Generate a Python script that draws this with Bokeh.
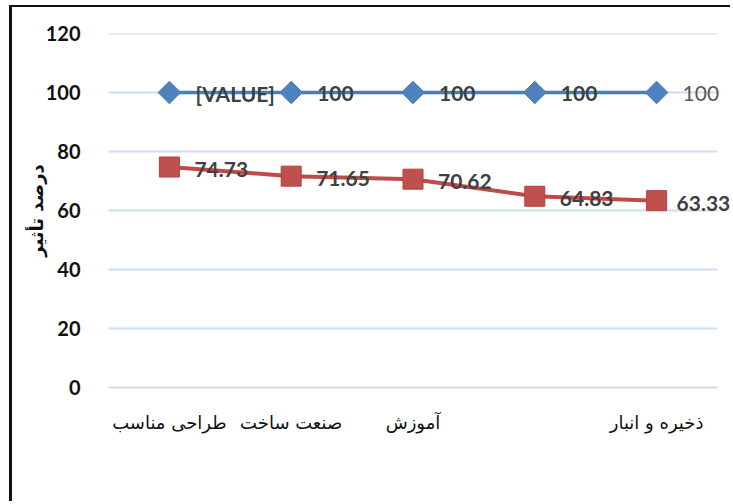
import math
from bokeh.plotting import figure
from bokeh.models import FixedTicker, Range1d, LabelSet, ColumnDataSource
from bokeh.core.properties import value
from bokeh.embed import file_html
from bokeh.resources import INLINE

# ---- data ----
categories = ["طراحی مناسب", "صنعت ساخت", "آموزش", "", "ذخیره و انبار"]
series_top = [100, 100, 100, 100, 100]
series_bottom = [74.73, 71.65, 70.62, 64.83, 63.33]
top_labels = ["[VALUE]", "100", "100", "100", "100"]
bottom_labels = ["74.73", "71.65", "70.62", "64.83", "63.33"]
y_ticks = [0, 20, 40, 60, 80, 100, 120]
y_axis_title = "درصد تأثیر"

xs = list(range(1, len(categories) + 1))
n = len(categories)

# layout (pixels)
W, H = 721, 496
left_b, top_b = 96, 26
bottom_b = H - 380
plot_px = 609          # width of the plotted category area
frame_px = W - left_b  # frame extends to the right edge so labels are not clipped
x_end = 0.5 + n * frame_px / plot_px

p = figure(width=W, height=H, output_backend="svg", toolbar_location=None,
           x_range=Range1d(0.5, x_end), y_range=Range1d(0, 120),
           min_border_left=left_b, min_border_right=0, min_border_top=top_b,
           min_border_bottom=bottom_b)
p.outline_line_color = None
p.styles = {"border-left": "3px solid #111111", "border-top": "2px solid #111111",
            "margin-left": "9px", "margin-top": "5px"}

# grid (drawn only over the category area)
p.xgrid.visible = False
p.ygrid.visible = False
gt = y_ticks[1:]
p.segment(x0=[0.5] * len(gt), x1=[n + 0.5] * len(gt), y0=gt, y1=gt,
          line_color="#d0def0", line_width=2)

# y axis
p.yaxis.ticker = FixedTicker(ticks=y_ticks)
p.yaxis.axis_line_color = None
p.yaxis.major_tick_line_color = None
p.yaxis.minor_tick_line_color = None
p.yaxis.major_label_standoff = 22
p.yaxis.major_label_text_font = "Lato"
p.yaxis.major_label_text_font_style = "bold"
p.yaxis.major_label_text_font_size = "20px"
p.yaxis.major_label_text_color = "#111111"
p.yaxis.axis_label = y_axis_title
p.yaxis.axis_label_text_font = "DejaVu Sans"
p.yaxis.axis_label_text_font_style = "bold"
p.yaxis.axis_label_text_font_size = "18px"
p.yaxis.axis_label_text_color = "#111111"
p.yaxis.axis_label_standoff = -4

# x axis
p.xaxis.ticker = FixedTicker(ticks=xs)
p.xaxis.bounds = (0.5, n + 0.5)
p.xaxis.major_label_overrides = {x: c for x, c in zip(xs, categories)}
p.xaxis.axis_line_color = "#d9d9d9"
p.xaxis.axis_line_width = 2
p.xaxis.major_tick_line_color = None
p.xaxis.minor_tick_line_color = None
p.xaxis.major_label_standoff = 18
p.xaxis.major_label_text_font = "DejaVu Sans"
p.xaxis.major_label_text_font_size = "18px"
p.xaxis.major_label_text_color = "#111111"

# series
p.line(xs, series_top, line_color="#4a7ebb", line_width=3.5)
p.scatter(xs, series_top, marker="square", angle=math.pi / 4, size=16,
          fill_color="#4f81bd", line_color="#4a7ebb")
p.line(xs, series_bottom, line_color="#be4b48", line_width=4)
p.scatter(xs, series_bottom, marker="square", size=20,
          fill_color="#c0504d", line_color="#b3423f")

# data labels
def labels(xv, yv, tv, dx, dy, style, color):
    src = ColumnDataSource(dict(x=xv, y=yv, t=tv))
    return LabelSet(x="x", y="y", text="t", source=src, x_offset=dx, y_offset=dy,
                    text_baseline="middle", text_align="left",
                    text_font=value("Lato"), text_font_size="21px",
                    text_font_style=style, text_color=color)

p.add_layout(labels(xs[:-1], series_top[:-1], top_labels[:-1], 26, -1, "bold", "#404040"))
p.add_layout(labels(xs[-1:], series_top[-1:], top_labels[-1:], 26, -1, "normal", "#595959"))
p.add_layout(labels(xs[:-1], series_bottom[:-1], bottom_labels[:-1], 25, -2, "bold", "#404040"))
p.add_layout(labels(xs[-1:], series_bottom[-1:], bottom_labels[-1:], 20, -3, "bold", "#404040"))

open("out.html", "w").write(file_html(p, INLINE))
